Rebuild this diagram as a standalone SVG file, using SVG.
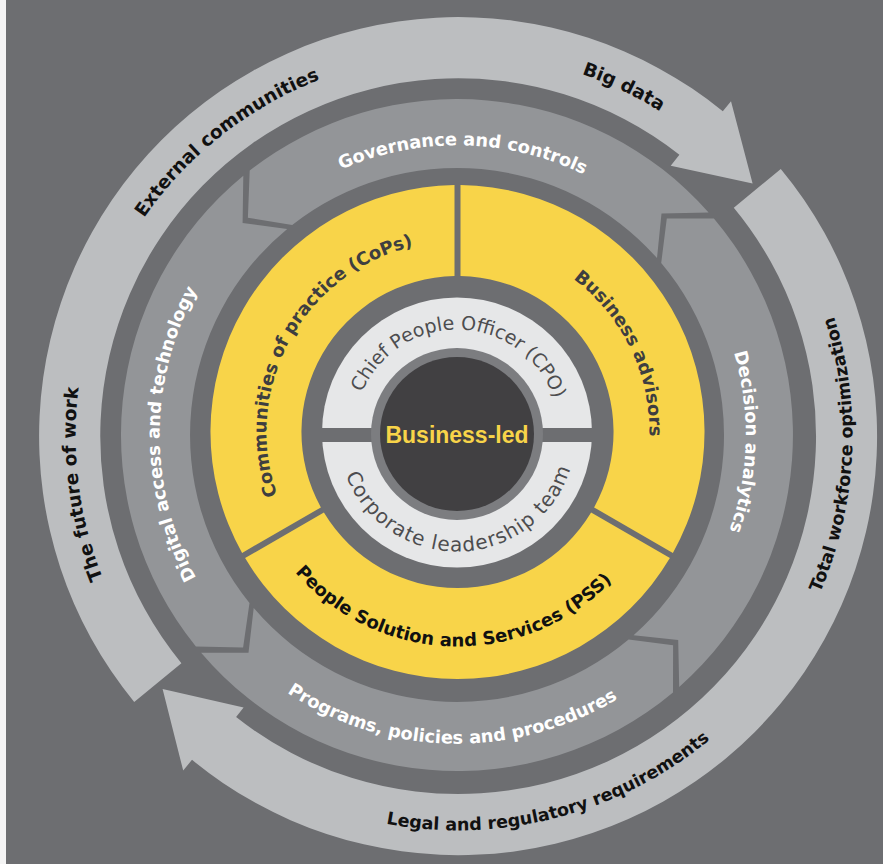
<svg xmlns="http://www.w3.org/2000/svg" width="883" height="864" viewBox="0 0 883 864">
<style>
.bg{fill:#6d6e71}
.outer{fill:#bcbec0}
.mid{fill:#939598}
.yel{fill:#f8d449}
.light{fill:#e6e7e8}
.b{font-family:"DejaVu Sans","Liberation Sans",sans-serif;font-weight:bold}
.r{font-family:"DejaVu Sans","Liberation Sans",sans-serif;font-weight:normal}
.to{font-size:18.5px;fill:#111}
.tm{font-size:17.8px;fill:#fff}
.ty{font-size:18px;fill:#3e3e40}
.tp{font-size:18px;fill:#111}
.tl{fill:#4d4d4f}
</style>
<defs>
<path id="p-future" d="M473.3,818.2 A382.5,382.5 0 0 1 376.5,62.3"/>
<path id="p-external" d="M137.9,645.4 A382.5,382.5 0 0 1 736.8,174.2"/>
<path id="p-bigdata" d="M128.1,242.4 A382.5,382.5 0 0 1 816.5,569.3"/>
<path id="p-total" d="M472.5,830.2 A394.5,394.5 0 0 0 512.2,45.2"/>
<path id="p-legal" d="M86.4,568.3 A394.5,394.5 0 0 0 847.0,370.2"/>
<path id="p-gov" d="M169.2,403.7 A289.5,289.5 0 0 1 745.9,415.8"/>
<path id="p-dec" d="M489.2,147.8 A289,289 0 0 1 475.1,723.4"/>
<path id="p-prog" d="M148.8,456.6 A309,309 0 0 0 764.3,467.3"/>
<path id="p-dig" d="M430.1,730.8 A297,297 0 0 1 432.1,139.0"/>
<path id="p-cops" d="M351.8,591.1 A191,191 0 0 1 534.0,257.0"/>
<path id="p-bus" d="M389.3,252.5 A192,192 0 0 1 555.8,596.9"/>
<path id="p-pss" d="M243.4,445.1 A214.5,214.5 0 0 0 670.6,456.3"/>
<path id="p-cpo" d="M354.7,420.1 A103,103 0 0 1 559.8,426.9"/>
<path id="p-corp" d="M338.8,446.6 A119,119 0 0 0 575.8,439.1"/>
</defs>
<rect class="bg" x="0" y="0" width="883" height="864"/>
<rect x="0" y="0" width="6" height="864" fill="#f4f4f4"/>

<g id="outer-arrow-1">
<path class="outer" d="M134.2,701.9 A419,419 0 0 1 722.8,111.3 L731.0,101.2 L752.6,183.5 L670.7,165.7 L679.4,154.7 A358,358 0 0 0 181.4,663.2 Z"/>
<text class="b to"><textPath href="#p-future" startOffset="50%" text-anchor="middle">The future of work</textPath></text>
<text class="b to"><textPath href="#p-external" startOffset="50%" text-anchor="middle">External communities</textPath></text>
<text class="b to"><textPath href="#p-bigdata" startOffset="50%" text-anchor="middle">Big data</textPath></text>
</g>
<g id="outer-arrow-2">
<path class="outer" d="M780.8,168.9 A419,419 0 0 1 192.0,759.8 L183.2,770.6 L162.6,689.1 L243.6,707.5 L236.1,717.0 A358,358 0 0 0 733.8,207.8 Z"/>
<text class="b to" style="font-size:17.5px"><textPath href="#p-total" startOffset="50%" text-anchor="middle">Total workforce optimization</textPath></text>
<text class="b to" style="font-size:17.5px"><textPath href="#p-legal" startOffset="50%" text-anchor="middle">Legal and regulatory requirements</textPath></text>
</g>

<g id="seg-governance">
<path class="mid" d="M249.7,170.6 A336,336 0 0 1 708.6,212.4 L661.5,213.5 L657.0,258.1 A267,267 0 0 0 292.2,224.9 L247.9,217.8 Z"/>
<text class="b tm"><textPath href="#p-gov" startOffset="50%" text-anchor="middle">Governance and controls</textPath></text>
</g>
<g id="seg-decision">
<path class="mid" d="M713.9,218.5 A336,336 0 0 1 679.2,687.0 L678.2,639.9 L633.6,635.3 A267,267 0 0 0 661.2,263.0 L666.8,218.5 Z"/>
<text class="b tm"><textPath href="#p-dec" startOffset="50%" text-anchor="middle">Decision analytics</textPath></text>
</g>
<g id="seg-programs">
<path class="mid" d="M673.0,692.4 A336,336 0 0 1 201.1,652.8 L248.5,652.8 L253.7,608.0 A267,267 0 0 0 628.6,639.5 L673.1,645.2 Z"/>
<text class="b tm"><textPath href="#p-prog" startOffset="50%" text-anchor="middle">Programs, policies and procedures</textPath></text>
</g>
<g id="seg-digital">
<path class="mid" d="M195.9,646.5 A336,336 0 0 1 243.3,175.7 L242.6,223.0 L287.2,229.0 A267,267 0 0 0 249.5,603.0 L243.1,647.4 Z"/>
<text class="b tm"><textPath href="#p-dig" startOffset="50%" text-anchor="middle">Digital access and technology</textPath></text>
</g>

<g id="cops">
<path class="yel" d="M242.1,552.9 A247,247 0 0 1 454.5,185.0 L454.5,276.0 A156,156 0 0 0 320.9,507.4 Z"/>
<text class="b ty"><textPath href="#p-cops" startOffset="50%" text-anchor="middle">Communities of practice (CoPs)</textPath></text>
</g>
<g id="business-advisors">
<path class="yel" d="M460.5,185.0 A247,247 0 0 1 672.9,552.9 L594.1,507.4 A156,156 0 0 0 460.5,276.0 Z"/>
<text class="b ty"><textPath href="#p-bus" startOffset="50%" text-anchor="middle">Business advisors</textPath></text>
</g>
<g id="pss">
<path class="yel" d="M669.9,558.1 A247,247 0 0 1 245.1,558.1 L323.9,512.6 A156,156 0 0 0 591.1,512.6 Z"/>
<text class="b tp"><textPath href="#p-pss" startOffset="50%" text-anchor="middle">People Solution and Services (PSS)</textPath></text>
</g>

<g id="leadership">
<circle class="light" cx="457" cy="432.5" r="135"/>
<rect class="bg" x="318" y="428" width="278" height="14"/>
<text class="r tl" style="font-size:19px"><textPath href="#p-cpo" startOffset="50%" text-anchor="middle">Chief People Officer (CPO)</textPath></text>
<text class="r tl" style="font-size:20px;letter-spacing:1px"><textPath href="#p-corp" startOffset="50%" text-anchor="middle">Corporate leadership team</textPath></text>
</g>

<g id="center">
<circle cx="457" cy="434" r="86" fill="#7c7d80"/>
<circle cx="457" cy="434" r="77" fill="#414042"/>
<text x="457" y="443" text-anchor="middle" textLength="143" lengthAdjust="spacingAndGlyphs" style="font-family:'Liberation Sans',Arial,sans-serif;font-weight:bold;font-size:24px;fill:#f8d449">Business-led</text>
</g>
</svg>
